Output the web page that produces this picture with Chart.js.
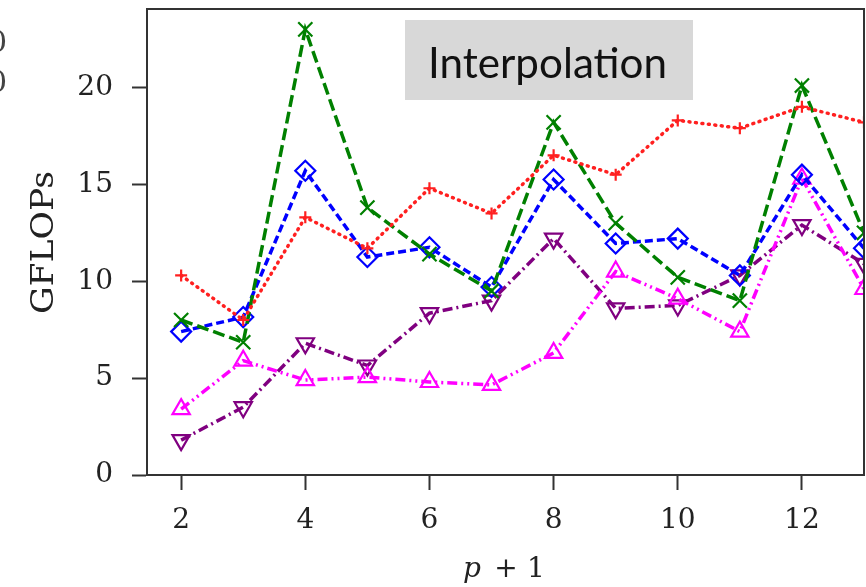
<!DOCTYPE html>
<html>
<head>
<meta charset="utf-8">
<script src="https://cdn.jsdelivr.net/npm/chart.js@4/dist/chart.umd.min.js"></script>
<style>
  html, body { margin: 0; padding: 0; background: #fff; }
  #wrap { width: 866px; height: 587px; position: relative; }
</style>
</head>
<body>
<div id="wrap"><canvas id="chart"></canvas></div>
<script>
// values
var pValues = [2, 3, 4, 5, 6, 7, 8, 9, 10, 11, 12, 13];
var xTicks = [2, 4, 6, 8, 10, 12];
var yTicks = [0, 5, 10, 15, 20];

var redPlus      = [10.3, 8.0, 13.3, 11.7, 14.8, 13.5, 16.5, 15.5, 18.3, 17.9, 19.0, 18.2];
var greenCross   = [8.0, 6.85, 23.0, 13.8, 11.4, 9.5, 18.2, 13.0, 10.2, 9.0, 20.1, 12.5];
var blueDiamond  = [7.4, 8.15, 15.7, 11.25, 11.75, 9.7, 15.25, 11.95, 12.2, 10.3, 15.5, 11.7];
var magentaUp    = [3.4, 5.9, 4.9, 5.05, 4.8, 4.65, 6.3, 10.5, 9.1, 7.4, 15.3, 9.6];
var purpleDown   = [1.8, 3.5, 6.8, 5.65, 8.35, 9.0, 12.2, 8.6, 8.75, 10.3, 12.9, 10.9];

function pts(ys) {
  return pValues.map(function (x, i) { return { x: x, y: ys[i] }; });
}

var serif = '"DejaVu Serif", "Liberation Serif", serif';

// draw text squeezed/stretched to a given width
function fitText(c, txt, x, y, width) {
  var w = c.measureText(txt).width;
  c.save();
  c.translate(x, y);
  c.scale(width / w, 1);
  c.fillText(txt, 0, 0);
  c.restore();
}

var framePlugin = {
  id: 'frame',
  afterDraw: function (chart) {
    var c = chart.ctx, a = chart.chartArea;
    c.save();
    c.strokeStyle = '#333';
    c.lineWidth = 2;
    c.strokeRect(a.left, a.top, a.right - a.left, a.bottom - a.top);

    // title box
    c.fillStyle = '#d8d8d8';
    c.fillRect(405, 20, 288, 80);
    c.fillStyle = '#111';
    c.font = '42px Lato, "Open Sans", sans-serif';
    c.textBaseline = 'alphabetic';
    c.textAlign = 'left';
    fitText(c, 'Interpolation', 428, 78, 239);

    // axis labels
    c.fillStyle = '#222';
    c.font = 'italic 28px ' + serif;
    c.textAlign = 'left';
    c.fillText('p', 463, 577);
    c.font = '28px ' + serif;
    c.textAlign = 'center';
    c.fillText('+', 506, 577);
    c.fillText('1', 536, 577);

    c.save();
    c.translate(53, 243);
    c.rotate(-Math.PI / 2);
    c.font = '31px ' + serif;
    c.textAlign = 'left';
    fitText(c, 'GFLOPs', -71, 0, 143);
    c.restore();

    // fragments of a neighbouring figure at the left edge
    c.font = '30px ' + serif;
    c.fillStyle = '#444';
    c.textAlign = 'left';
    c.fillText('0', -12, 52);
    c.fillText('0', -12, 92);
    c.restore();
  }
};

function ds(label, ys, color, style, dash, radius, rot) {
  return {
    label: label,
    data: pts(ys),
    borderColor: color,
    backgroundColor: 'rgba(0,0,0,0)',
    borderWidth: 3.5,
    borderDash: dash,
    borderCapStyle: dash.length === 2 && dash[0] < 2 ? 'round' : 'butt',
    pointStyle: style,
    pointRadius: radius,
    pointRotation: rot || 0,
    pointBorderWidth: 2.2,
    pointBorderColor: color,
    pointBackgroundColor: 'rgba(0,0,0,0)',
    tension: 0
  };
}

new Chart(document.getElementById('chart'), {
  type: 'line',
  data: {
    datasets: [
      ds('red', redPlus, '#ff2020', 'cross', [1, 5.5], 6),
      ds('green', greenCross, '#008000', 'crossRot', [12, 5], 10),
      ds('blue', blueDiamond, '#0000ff', 'rectRot', [8, 4], 10),
      ds('magenta', magentaUp, '#ff00ff', 'triangle', [10, 4, 2, 4, 2, 4], 10),
      ds('purple', purpleDown, '#800080', 'triangle', [10, 4, 2, 4], 10, 180)
    ]
  },
  plugins: [framePlugin],
  options: {
    responsive: true,
    maintainAspectRatio: false,
    animation: false,
    layout: { autoPadding: false, padding: { top: 9, right: 2, left: 0, bottom: 0 } },
    plugins: { legend: { display: false }, tooltip: { enabled: false } },
    scales: {
      x: {
        type: 'linear',
        min: 1.45,
        max: 13,
        afterBuildTicks: function (s) { s.ticks = xTicks.map(function (v) { return { value: v }; }); },
        afterFit: function (s) { s.height = 112; s.paddingLeft = 0; s.paddingRight = 0; },
        grid: { drawOnChartArea: false, tickLength: 15, tickWidth: 2, tickColor: '#333' },
        border: { display: true, color: '#333', width: 2 },
        ticks: { color: '#222', font: { family: serif, size: 28 }, padding: 14, maxRotation: 0 }
      },
      y: {
        min: 0,
        max: 24.05,
        afterBuildTicks: function (s) { s.ticks = yTicks.map(function (v) { return { value: v }; }); },
        afterFit: function (s) { s.width = 147; s.paddingTop = 0; s.paddingBottom = 0; },
        grid: { drawOnChartArea: false, tickLength: 15, tickWidth: 2, tickColor: '#333' },
        border: { display: true, color: '#333', width: 2 },
        ticks: { color: '#222', font: { family: serif, size: 28 }, padding: 19 }
      }
    }
  }
});
</script>
</body>
</html>
